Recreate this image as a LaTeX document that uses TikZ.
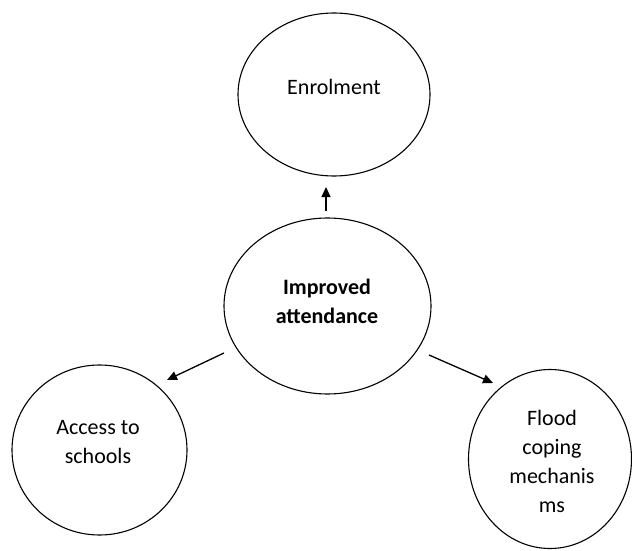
\documentclass[tikz,border=0pt]{standalone}
\usepackage{fontspec}
\setmainfont{Carlito}
\usetikzlibrary{shapes.geometric,arrows.meta}
\tikzset{
  bubble/.style={draw=black, line width=1.1pt, ellipse, inner sep=0pt},
  lbl/.style={font=\fontsize{22}{29}\selectfont, align=center, anchor=base, inner sep=0pt},
  arr/.style={line width=1.3pt, -{Triangle[length=10pt,width=9pt]}}
}
\begin{document}
\begin{tikzpicture}[x=1pt,y=-1pt]
\useasboundingbox (0,0) rectangle (632,551);
% ellipses
\node[bubble, minimum width=192pt, minimum height=163pt] (enr) at (334,94.5) {};
\node[bubble, minimum width=207pt, minimum height=176pt] (att) at (327.5,306) {};
\node[bubble, minimum width=175pt, minimum height=170pt] (acc) at (99.5,450) {};
\node[bubble, minimum width=163pt, minimum height=179pt] (fld) at (550,459) {};
% texts (anchor = baseline of last line)
\node[lbl] (tenr) at (334,94) {Enrolment};
\node[lbl, font=\fontsize{22}{29}\selectfont\bfseries] (tatt) at (327,323) {Improved\\attendance};
\node[lbl] (tacc) at (98,463) {Access to\\schools};
\node[lbl] (tfld) at (552,512) {Flood\\coping\\mechanis\\ms};
% arrow ends
\coordinate (u0) at (326,211);
\coordinate (u1) at (326,187);
\coordinate (l0) at (224,353);
\coordinate (l1) at (167,380);
\coordinate (r0) at (429,355);
\coordinate (r1) at (493,383);
\draw[arr] (u0) -- (u1);
\draw[arr] (l0) -- (l1);
\draw[arr] (r0) -- (r1);
\end{tikzpicture}
\end{document}
